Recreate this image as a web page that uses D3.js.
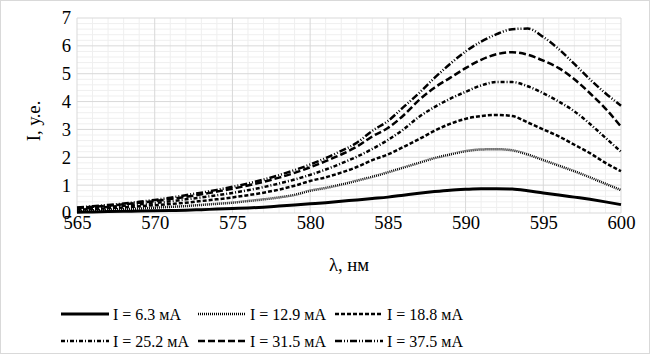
<!DOCTYPE html>
<html>
<head>
<meta charset="utf-8">
<script src="https://cdn.jsdelivr.net/npm/d3@7"></script>
<style>
  body { margin: 0; background: #fff; }
  svg text { font-family: "Liberation Serif", serif !important; fill: #000; }
</style>
</head>
<body>
<div class="container"></div>
<script>
// wavelengths, nm
const wavelengths = [565, 566, 567, 568, 569, 570, 571, 572, 573, 574, 575, 576, 577, 578, 579, 580, 581, 582,
  583, 584, 585, 586, 587, 588, 589, 590, 591, 592, 593, 594, 595, 596, 597, 598, 599, 600];

// intensity for every current
const i6_3 = [0.03, 0.04, 0.05, 0.06, 0.07, 0.08, 0.09, 0.10, 0.12, 0.14, 0.16, 0.18, 0.21, 0.25, 0.29, 0.33, 0.37, 0.42,
  0.47, 0.52, 0.57, 0.64, 0.71, 0.77, 0.82, 0.85, 0.87, 0.87, 0.86, 0.80, 0.72, 0.65, 0.57, 0.49, 0.40, 0.30];
const i12_9 = [0.08, 0.10, 0.12, 0.14, 0.16, 0.19, 0.22, 0.25, 0.29, 0.33, 0.37, 0.43, 0.49, 0.56, 0.65, 0.80, 0.90, 1.02,
  1.16, 1.30, 1.46, 1.63, 1.80, 1.97, 2.10, 2.22, 2.28, 2.29, 2.25, 2.10, 1.90, 1.70, 1.50, 1.28, 1.05, 0.82];
const i18_8 = [0.12, 0.14, 0.17, 0.20, 0.24, 0.28, 0.32, 0.37, 0.43, 0.49, 0.56, 0.64, 0.73, 0.84, 0.98, 1.15, 1.28, 1.45,
  1.65, 1.90, 2.10, 2.37, 2.65, 2.95, 3.20, 3.38, 3.48, 3.52, 3.48, 3.25, 3.00, 2.75, 2.45, 2.15, 1.80, 1.50];
const i25_2 = [0.15, 0.18, 0.22, 0.26, 0.31, 0.36, 0.42, 0.49, 0.56, 0.64, 0.72, 0.82, 0.93, 1.06, 1.20, 1.37, 1.56, 1.78,
  2.02, 2.30, 2.62, 3.00, 3.45, 3.80, 4.10, 4.35, 4.58, 4.70, 4.70, 4.55, 4.30, 4.00, 3.65, 3.20, 2.70, 2.20];
const i31_5 = [0.18, 0.22, 0.26, 0.31, 0.37, 0.43, 0.50, 0.58, 0.67, 0.77, 0.87, 0.99, 1.12, 1.27, 1.44, 1.64, 1.86, 2.10,
  2.38, 2.75, 3.05, 3.50, 4.05, 4.50, 4.85, 5.20, 5.50, 5.70, 5.77, 5.68, 5.47, 5.20, 4.80, 4.30, 3.75, 3.10];
const i37_5 = [0.20, 0.24, 0.29, 0.34, 0.40, 0.47, 0.55, 0.64, 0.73, 0.83, 0.94, 1.06, 1.20, 1.36, 1.54, 1.74, 1.97, 2.23,
  2.52, 2.95, 3.30, 3.80, 4.30, 4.85, 5.35, 5.80, 6.15, 6.42, 6.60, 6.62, 6.32, 5.88, 5.35, 4.80, 4.30, 3.85];

// legend labels
const labels = ["I = 6.3 мА", "I = 12.9 мА", "I = 18.8 мА", "I = 25.2 мА", "I = 31.5 мА", "I = 37.5 мА"];

// axis ticks
const xTicks = [565, 570, 575, 580, 585, 590, 595, 600];
const yTicks = [0, 1, 2, 3, 4, 5, 6, 7];

const width = 650;
const height = 354;
const margin = { top: 18, bottom: 141, left: 77, right: 29 };

// line dash for each series (excel like styles)
const dashes = ["none", "1 1", "4 2", "4 2 1 2", "7 3", "7 2 1 2 1 2"];
const widths = [3, 2.5, 2.5, 2.5, 2.5, 2.5];

const series = [i6_3, i12_9, i18_8, i25_2, i31_5, i37_5].map((vals, k) => ({
  label: labels[k],
  values: vals.map((v, i) => ({ x: wavelengths[i], y: v })),
  dash: dashes[k],
  width: widths[k]
}));

const svg = d3.select(".container")
  .append("svg")
  .attr("width", width)
  .attr("height", height);

// chart border
svg.append("rect")
  .attr("x", 0.5).attr("y", 0.5)
  .attr("width", width - 1).attr("height", height - 1)
  .attr("fill", "#fff")
  .attr("stroke", "#d9d9d9");

const xScale = d3.scaleLinear()
  .domain([565, 600])
  .range([margin.left, width - margin.right]);

const yScale = d3.scaleLinear()
  .domain([0, 7])
  .range([height - margin.bottom, margin.top]);

// minor grid lines
svg.append("g")
  .attr("stroke", "#efefef")
  .selectAll("line")
  .data(d3.range(565, 601, 1).filter(d => d % 5 !== 0))
  .join("line")
  .attr("x1", d => xScale(d)).attr("x2", d => xScale(d))
  .attr("y1", yScale(0)).attr("y2", yScale(7));

svg.append("g")
  .attr("stroke", "#efefef")
  .selectAll("line")
  .data(d3.range(0, 35).filter(d => d % 5 !== 0).map(d => d / 5))
  .join("line")
  .attr("y1", d => yScale(d)).attr("y2", d => yScale(d))
  .attr("x1", xScale(565)).attr("x2", xScale(600));

// major grid lines
svg.append("g")
  .attr("stroke", "#d9d9d9")
  .selectAll("line")
  .data(xTicks)
  .join("line")
  .attr("x1", d => xScale(d)).attr("x2", d => xScale(d))
  .attr("y1", yScale(0)).attr("y2", yScale(7));

svg.append("g")
  .attr("stroke", "#d9d9d9")
  .selectAll("line")
  .data(yTicks)
  .join("line")
  .attr("y1", d => yScale(d)).attr("y2", d => yScale(d))
  .attr("x1", xScale(565)).attr("x2", xScale(600));

// axes, only labels
svg.append("g")
  .attr("transform", `translate(0, ${height - margin.bottom})`)
  .call(d3.axisBottom(xScale).tickValues(xTicks).tickFormat(d3.format("d")).tickSize(0).tickPadding(3))
  .call(g => g.select(".domain").remove())
  .attr("font-size", "18.67px");

svg.append("g")
  .attr("transform", `translate(${margin.left}, 0)`)
  .call(d3.axisLeft(yScale).tickValues(yTicks).tickFormat(d3.format("d")).tickSize(0).tickPadding(6))
  .call(g => g.select(".domain").remove())
  .attr("font-size", "18.67px");

// axis titles
svg.append("text")
  .attr("x", 349).attr("y", 271)
  .attr("text-anchor", "middle")
  .attr("font-size", "18.67px")
  .text("λ, нм");

svg.append("text")
  .attr("transform", "translate(40, 121) rotate(-90)")
  .attr("text-anchor", "middle")
  .attr("font-size", "18.67px")
  .text("I, у.е.");

// the curves
const line = d3.line()
  .x(d => xScale(d.x))
  .y(d => yScale(d.y))
  .curve(d3.curveMonotoneX);

svg.append("g")
  .selectAll("path")
  .data(series)
  .join("path")
  .attr("d", d => line(d.values))
  .attr("fill", "none")
  .attr("stroke", "#000")
  .attr("stroke-width", d => d.width)
  .attr("stroke-dasharray", d => d.dash);

// legend, 3 columns x 2 rows
const legend = svg.append("g")
  .selectAll("g")
  .data(series)
  .join("g")
  .attr("transform", (d, i) => `translate(${61 + (i % 3) * 137}, ${314 + Math.floor(i / 3) * 27})`);

legend.append("line")
  .attr("x1", 0).attr("x2", 48)
  .attr("stroke", "#000")
  .attr("stroke-width", d => d.width)
  .attr("stroke-dasharray", d => d.dash);

legend.append("text")
  .attr("x", 52).attr("y", 6)
  .attr("font-size", "16px")
  .text(d => d.label);
</script>
</body>
</html>
